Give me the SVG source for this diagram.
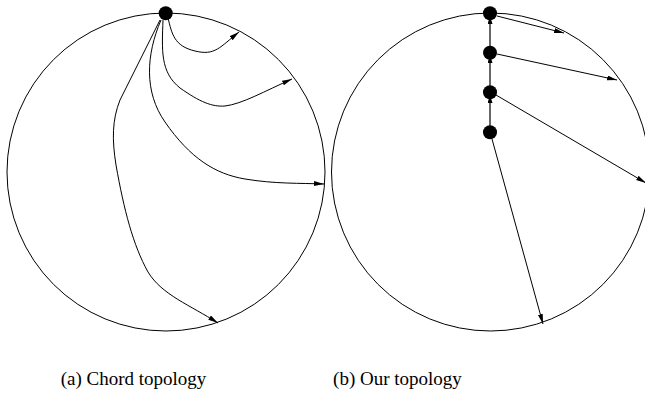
<svg xmlns="http://www.w3.org/2000/svg" width="645" height="398" viewBox="0 0 645 398">
<style>
.ring{fill:none;stroke:#000;stroke-width:1}
.e{fill:none;stroke:#000;stroke-width:1;marker-end:url(#ah)}
.v{fill:none;stroke:#000;stroke-width:1.2;marker-end:url(#vh)}
.n{fill:#000}
.cap{font-family:"Liberation Serif","Times New Roman",serif;font-size:19px;fill:#000}
</style>
<defs>
<marker id="ah" markerUnits="userSpaceOnUse" markerWidth="11" markerHeight="6" refX="10" refY="2.5" orient="auto">
<path d="M0,0 L10,2.5 L0,5 z" fill="#000"/>
</marker>
<marker id="vh" markerUnits="userSpaceOnUse" markerWidth="9" markerHeight="6" refX="8" refY="2.5" orient="auto">
<path d="M0,0 L8,2.5 L0,5 z" fill="#000"/>
</marker>
</defs>
<circle class="ring" cx="166" cy="172" r="159"/>
<circle class="ring" cx="490.5" cy="172" r="159"/>
<g id="edges">
<path class="e" d="M168,18 C172,34 174,46 195,51 C 215,56 220,47 239,32"/>
<path class="e" d="M163,20 C162,50 160,72 180,88 C 200,102 212,107 225,106 C 242,104 265,91 292,79"/>
<path class="e" d="M161,20 C146,55 144,92 165,122 C 190,158 215,174 245,179 C 275,184 300,183 324,184"/>
<path class="e" d="M160,20 L120,100 C112,120 112,140 116,165 C 124,210 133,245 148,272 C 162,295 190,305 218,323"/>
<path class="e" d="M497,16 L564,33"/>
<path class="e" d="M497,54 L617,80"/>
<path class="e" d="M496,95 L646,183"/>
<path class="e" d="M492,139 L543,324"/>
<path class="v" d="M490,46 L490,16"/>
<path class="v" d="M490,86 L490,55"/>
<path class="v" d="M490,126 L490,95"/>
</g>
<g id="chord-node"><circle class="n" cx="165.7" cy="13.3" r="7"/></g>
<g id="node1"><circle class="n" cx="490" cy="13.3" r="7"/></g>
<g id="node2"><circle class="n" cx="490" cy="52.7" r="7"/></g>
<g id="node3"><circle class="n" cx="490" cy="92.3" r="7"/></g>
<g id="node4"><circle class="n" cx="490" cy="132.3" r="7"/></g>
<text class="cap" x="133.5" y="385" text-anchor="middle">(a) Chord topology</text>
<text class="cap" x="397.5" y="385" text-anchor="middle">(b) Our topology</text>
</svg>
